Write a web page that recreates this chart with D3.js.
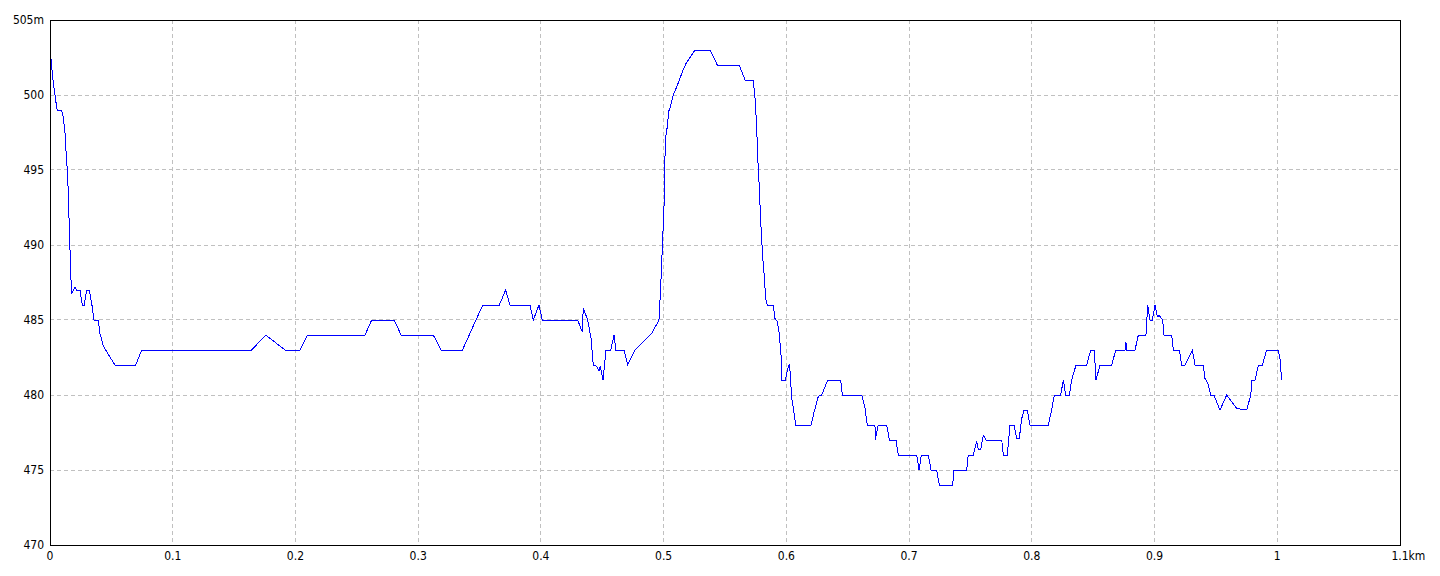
<!DOCTYPE html>
<html>
<head>
<meta charset="utf-8">
<script src="https://cdn.jsdelivr.net/npm/d3@7"></script>
<style>
  html, body { margin: 0; padding: 0; background: #fff; }
  svg { display: block; }
  text { font-family: 'Liberation Sans Narrow', 'DejaVu Sans Condensed', 'Liberation Sans', sans-serif; font-size: 12px; fill: #000; }
</style>
</head>
<body>
<svg id="chart" width="1440" height="576"></svg>
<script>
// distance along track (km)
const distKm = [
  0.0000, 0.0008, 0.0016, 0.0027, 0.0041, 0.0049, 0.0059, 0.0095, 0.0108, 0.0122,
  0.0130, 0.0141, 0.0149, 0.0157, 0.0165, 0.0171, 0.0177, 0.0204, 0.0218, 0.0244,
  0.0258, 0.0266, 0.0279, 0.0299, 0.0320, 0.0340, 0.0359, 0.0394, 0.0407, 0.0434,
  0.0475, 0.0530, 0.0698, 0.0747, 0.1643, 0.1758, 0.1915, 0.2037, 0.2097, 0.2567,
  0.2621, 0.2805, 0.2860, 0.3123, 0.3186, 0.3361, 0.3471, 0.3526, 0.3661, 0.3713,
  0.3748, 0.3911, 0.3938, 0.3984, 0.4011, 0.4300, 0.4337, 0.4345, 0.4381, 0.4408,
  0.4427, 0.4455, 0.4473, 0.4484, 0.4506, 0.4530, 0.4569, 0.4596, 0.4610, 0.4677,
  0.4707, 0.4767, 0.4903, 0.4962, 0.4976, 0.4984, 0.4992, 0.5003, 0.5009, 0.5017,
  0.5030, 0.5041, 0.5058, 0.5079, 0.5119, 0.5160, 0.5182, 0.5256, 0.5378, 0.5437,
  0.5616, 0.5663, 0.5730, 0.5744, 0.5758, 0.5766, 0.5777, 0.5791, 0.5807, 0.5820,
  0.5832, 0.5845, 0.5894, 0.5907, 0.5926, 0.5942, 0.5959, 0.5962, 0.5991, 0.6016,
  0.6024, 0.6032, 0.6043, 0.6057, 0.6076, 0.6201, 0.6227, 0.6260, 0.6288, 0.6337,
  0.6443, 0.6456, 0.6614, 0.6641, 0.6659, 0.6722, 0.6724, 0.6749, 0.6818, 0.6839,
  0.6893, 0.6912, 0.7062, 0.7081, 0.7100, 0.7157, 0.7179, 0.7225, 0.7246, 0.7355,
  0.7366, 0.7469, 0.7482, 0.7523, 0.7551, 0.7564, 0.7584, 0.7605, 0.7627, 0.7755,
  0.7768, 0.7800, 0.7822, 0.7855, 0.7877, 0.7898, 0.7917, 0.7936, 0.7963, 0.7985,
  0.8134, 0.8162, 0.8183, 0.8235, 0.8257, 0.8276, 0.8306, 0.8325, 0.8360, 0.8447,
  0.8480, 0.8509, 0.8523, 0.8556, 0.8651, 0.8684, 0.8759, 0.8767, 0.8773, 0.8841,
  0.8868, 0.8930, 0.8944, 0.8963, 0.8982, 0.9004, 0.9023, 0.9039, 0.9066, 0.9077,
  0.9140, 0.9153, 0.9202, 0.9221, 0.9248, 0.9308, 0.9330, 0.9397, 0.9411, 0.9438,
  0.9457, 0.9484, 0.9533, 0.9588, 0.9669, 0.9751, 0.9784, 0.9794, 0.9819, 0.9846,
  0.9878, 0.9914, 1.0008, 1.0022, 1.0036
];
// elevation (m)
const elevM = [
  503.0, 502.4, 501.7, 500.8, 500.0, 499.5, 499.0, 499.0, 498.5, 497.5,
  496.3, 495.0, 493.5, 491.2, 489.2, 487.7, 486.8, 487.2, 487.0, 487.0,
  486.2, 486.0, 486.0, 487.0, 487.0, 486.1, 485.0, 485.0, 484.1, 483.3,
  482.7, 482.0, 482.0, 483.0, 483.0, 484.0, 483.0, 483.0, 484.0, 484.0,
  485.0, 485.0, 484.0, 484.0, 483.0, 483.0, 485.0, 486.0, 486.0, 487.0,
  486.0, 486.0, 485.0, 486.0, 485.0, 485.0, 484.2, 485.8, 485.0, 483.8,
  482.0, 481.9, 481.6, 481.9, 481.0, 483.0, 483.0, 484.0, 483.0, 483.0,
  482.0, 483.0, 484.1, 485.0, 487.2, 488.8, 490.3, 492.6, 495.4, 497.2,
  497.9, 498.9, 499.3, 500.0, 500.8, 501.7, 502.1, 503.0, 503.0, 502.0,
  502.0, 501.0, 501.0, 499.9, 497.9, 495.9, 494.2, 491.6, 489.2, 487.9,
  486.4, 486.0, 486.0, 485.1, 484.9, 484.1, 482.4, 481.0, 481.0, 481.9,
  482.0, 481.4, 479.8, 479.1, 478.0, 478.0, 478.9, 479.9, 480.0, 481.0,
  481.0, 480.0, 480.0, 479.1, 478.0, 478.0, 477.0, 478.0, 478.0, 477.0,
  477.0, 476.0, 476.0, 475.0, 476.0, 476.0, 475.0, 475.0, 474.0, 474.0,
  475.0, 475.0, 476.0, 476.0, 476.9, 476.4, 476.4, 477.3, 477.0, 477.0,
  476.0, 476.0, 478.0, 478.0, 477.1, 477.1, 478.4, 479.0, 479.0, 478.0,
  478.0, 479.0, 480.0, 480.0, 481.0, 480.0, 480.0, 481.0, 482.0, 482.0,
  483.0, 483.0, 481.0, 482.0, 482.0, 483.0, 483.0, 483.5, 483.0, 483.0,
  484.0, 484.0, 486.0, 485.0, 485.0, 486.0, 485.2, 485.3, 485.0, 484.0,
  484.0, 483.0, 483.0, 482.0, 482.0, 483.0, 482.0, 482.0, 481.1, 480.7,
  480.0, 480.0, 479.0, 480.0, 479.1, 479.0, 480.0, 481.0, 481.0, 482.0,
  482.0, 483.0, 483.0, 482.4, 481.0
];
const xTicks = [0, 0.1, 0.2, 0.3, 0.4, 0.5, 0.6, 0.7, 0.8, 0.9, 1, 1.1];
const xTickLabels = ["0", "0.1", "0.2", "0.3", "0.4", "0.5", "0.6", "0.7", "0.8", "0.9", "1", "1.1"];
const yTicks = [470, 475, 480, 485, 490, 495, 500, 505];
const yTickLabels = ["470", "475", "480", "485", "490", "495", "500", "505m"];
const xUnit = "km";

const svg = d3.select("#chart");
const L = 50, R = 1400, T = 20, B = 545;
const x = d3.scaleLinear().domain([0, 1.1]).range([L, R]);
const y = d3.scaleLinear().domain([470, 505]).range([B, T]);
const px = v => Math.floor(v) + 0.5;

// grid
const grid = svg.append("g").attr("stroke", "#c0c0c0").attr("stroke-dasharray", "4,3")
  .attr("shape-rendering", "crispEdges");
grid.selectAll("line.v").data(xTicks.slice(1, -1)).join("line")
  .attr("x1", d => px(x(d))).attr("x2", d => px(x(d)))
  .attr("y1", T).attr("y2", B);
grid.selectAll("line.h").data(yTicks.slice(1, -1)).join("line")
  .attr("y1", d => px(y(d))).attr("y2", d => px(y(d)))
  .attr("x1", L).attr("x2", R);

// line
const line = d3.line().x((d, i) => x(distKm[i])).y(d => y(d));
svg.append("path").datum(elevM)
  .attr("d", line)
  .attr("fill", "none").attr("stroke", "#0000ff").attr("stroke-width", 1)
  .attr("shape-rendering", "crispEdges");

// frame
svg.append("rect").attr("x", L + 0.5).attr("y", T + 0.5)
  .attr("width", R - L).attr("height", B - T)
  .attr("fill", "none").attr("stroke", "#000").attr("shape-rendering", "crispEdges");

// y labels
svg.append("g").selectAll("text").data(yTicks).join("text")
  .attr("x", L - 6).attr("y", d => y(d)).attr("dy", "0.35em")
  .attr("text-anchor", "end")
  .text((d, i) => yTickLabels[i]);

// x labels
const xl = svg.append("g");
xl.selectAll("text").data(xTicks).join("text")
  .attr("x", d => x(d)).attr("y", B + 11).attr("dy", "0.35em")
  .attr("text-anchor", "middle")
  .text((d, i) => xTickLabels[i]);
// unit appended after last label
const lastNode = xl.selectAll("text").nodes().slice(-1)[0];
const bb = lastNode.getBBox();
xl.append("text").attr("x", bb.x + bb.width).attr("y", B + 11).attr("dy", "0.35em")
  .attr("text-anchor", "start").text(xUnit);
</script>
</body>
</html>
